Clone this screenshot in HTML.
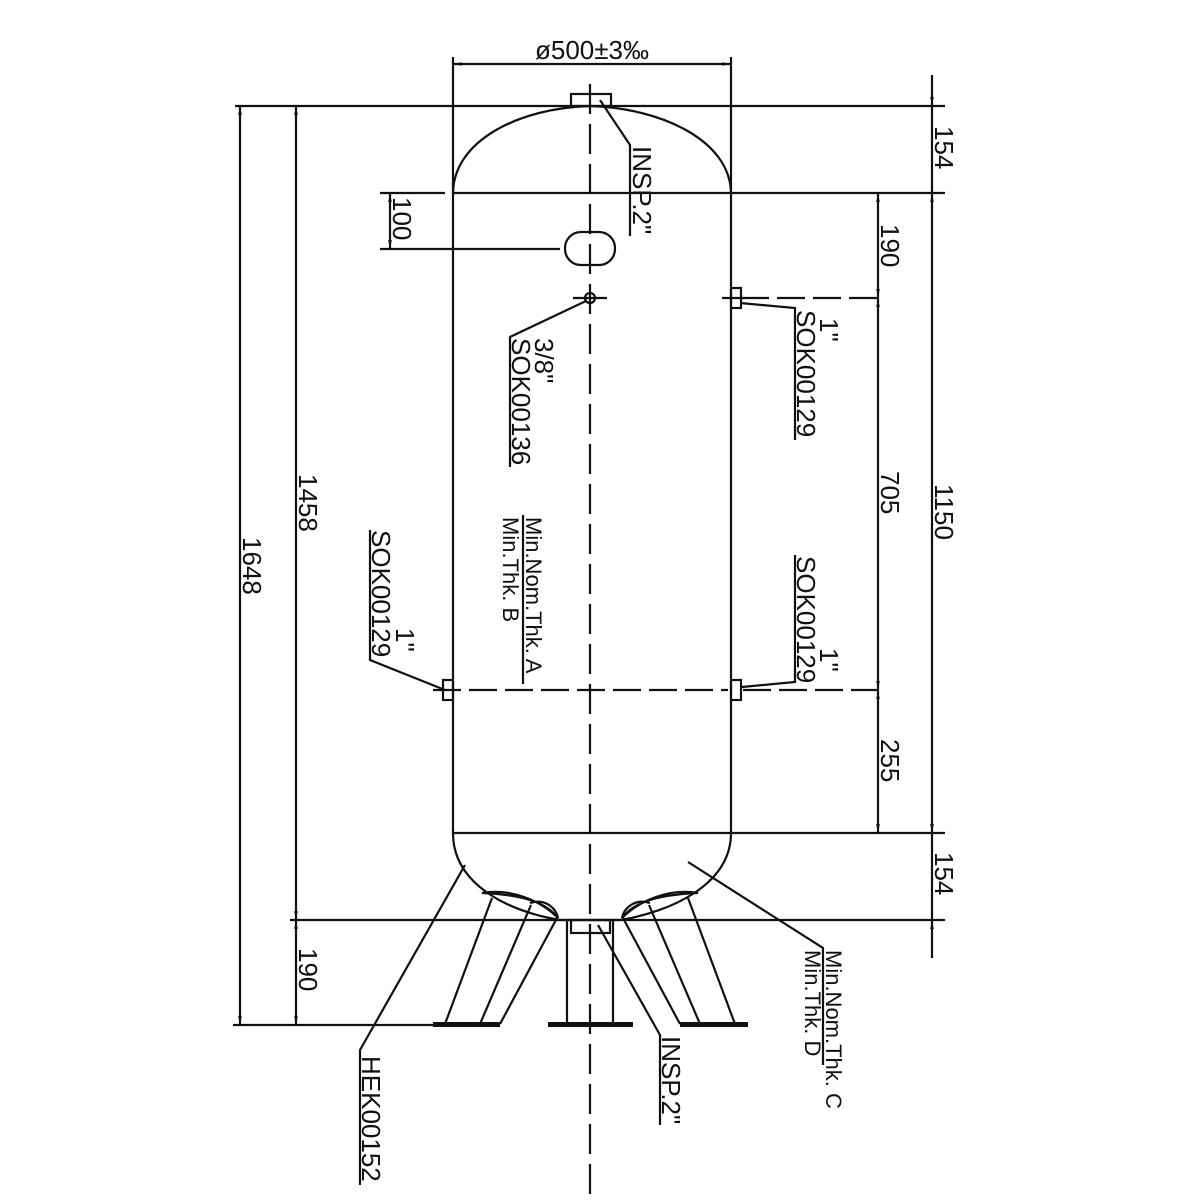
<!DOCTYPE html>
<html><head><meta charset="utf-8"><style>
html,body{margin:0;padding:0;background:#fff;}
svg{display:block;}
text{font-family:"Liberation Sans",sans-serif;fill:#111;}
</style></head><body>
<svg width="1200" height="1200" viewBox="0 0 1200 1200" xmlns="http://www.w3.org/2000/svg">
<defs>
<marker id="a" viewBox="0 0 10 10" refX="10" refY="5" markerWidth="9" markerHeight="9" orient="auto-start-reverse" markerUnits="userSpaceOnUse"><path d="M0,3 L10,5 L0,7 z" fill="#111"/></marker>
</defs>
<g stroke="#111" stroke-width="2.2" fill="none">
<path d="M453,57 L453,833"/>
<path d="M731,57 L731,833"/>
<path d="M453,194 C453,140 520,108 590,106 C660,108 731,140 731,194"/>
<path d="M453,833 C453,885 510,912 560,920 L620,920 C670,912 731,885 731,833"/>
<rect x="571" y="94" width="40" height="12"/>
<line x1="453" y1="64" x2="731" y2="64" marker-start="url(#a)" marker-end="url(#a)"/>
<line x1="235" y1="106" x2="945" y2="106"/>
<line x1="380" y1="193" x2="445" y2="193"/>
<line x1="453" y1="193" x2="945" y2="193"/>
<line x1="380" y1="249" x2="560" y2="249"/>
<line x1="453" y1="833" x2="945" y2="833"/>
<line x1="290" y1="920" x2="945" y2="920"/>
<line x1="233" y1="1025" x2="460" y2="1025"/>
<line x1="741" y1="298" x2="885" y2="298" stroke-dasharray="28,8"/>
<line x1="743" y1="690" x2="885" y2="690" stroke-dasharray="28,8"/>
<line x1="433" y1="690" x2="728" y2="690" stroke-dasharray="28,8"/>
<line x1="722" y1="298" x2="741" y2="298"/>
<line x1="932" y1="75" x2="932" y2="106" marker-end="url(#a)"/>
<line x1="932" y1="106" x2="932" y2="193"/>
<line x1="932" y1="193" x2="932" y2="833" marker-start="url(#a)" marker-end="url(#a)"/>
<line x1="932" y1="833" x2="932" y2="920"/>
<line x1="932" y1="958" x2="932" y2="920" marker-end="url(#a)"/>
<line x1="878" y1="193" x2="878" y2="298" marker-start="url(#a)" marker-end="url(#a)"/>
<line x1="878" y1="298" x2="878" y2="690" marker-start="url(#a)" marker-end="url(#a)"/>
<line x1="878" y1="690" x2="878" y2="833" marker-start="url(#a)" marker-end="url(#a)"/>
<line x1="240" y1="106" x2="240" y2="1025" marker-start="url(#a)" marker-end="url(#a)"/>
<line x1="296" y1="106" x2="296" y2="920" marker-start="url(#a)" marker-end="url(#a)"/>
<line x1="296" y1="920" x2="296" y2="1025" marker-start="url(#a)" marker-end="url(#a)"/>
<line x1="390" y1="193" x2="390" y2="249" marker-start="url(#a)" marker-end="url(#a)"/>
<line x1="590" y1="84" x2="590" y2="1200" stroke-dasharray="30,10"/>
<rect x="565" y="232" width="50" height="33" rx="16"/>
<circle cx="590" cy="298" r="5"/>
<line x1="573" y1="298" x2="607" y2="298"/>
<rect x="731" y="288" width="10" height="20"/>
<rect x="443" y="680" width="10" height="20"/>
<rect x="731" y="680" width="10" height="20"/>
<polyline points="600,100 630,145 630,236"/>
<polyline points="586,301 510,337 510,467"/>
<polyline points="740,303 795,308 795,440"/>
<polyline points="742,687 795,682 795,555"/>
<polyline points="370,530 370,660 445,690"/>
<polyline points="465,865 360,1050 360,1185"/>
<polyline points="598,925 660,1035 660,1125"/>
<polyline points="688,862 823,948 823,1065"/>
<line x1="523" y1="515" x2="523" y2="684"/>
<path d="M482,893 C510,888 540,900 558,918 C548,905 530,895 482,893 Z"/>
<path d="M530,903 C545,898 556,908 558,918"/>
<line x1="492" y1="898" x2="445" y2="1024"/>
<line x1="531" y1="905" x2="480" y2="1024"/>
<line x1="557" y1="918" x2="500" y2="1024"/>
<path d="M698,893 C670,888 640,900 622,918 C632,905 650,895 698,893 Z"/>
<path d="M650,903 C635,898 624,908 622,918"/>
<line x1="688" y1="898" x2="735" y2="1024"/>
<line x1="649" y1="905" x2="700" y2="1024"/>
<line x1="623" y1="918" x2="680" y2="1024"/>
<line x1="567" y1="920" x2="567" y2="1024"/>
<line x1="613" y1="920" x2="613" y2="1024"/>
<rect x="571" y="920" width="39" height="13"/>
</g>
<g fill="#111">
<rect x="433" y="1022" width="67" height="5"/>
<rect x="548" y="1022" width="85" height="5"/>
<rect x="680" y="1022" width="68" height="5"/>
</g>
<text x="592" y="59" font-size="26" text-anchor="middle">ø500±3‰</text>
<g font-size="26">
<text transform="translate(935,126) rotate(90)">154</text>
<text transform="translate(935,484) rotate(90)">1150</text>
<text transform="translate(935,852) rotate(90)">154</text>
<text transform="translate(881,224) rotate(90)">190</text>
<text transform="translate(881,471) rotate(90)">705</text>
<text transform="translate(881,739) rotate(90)">255</text>
<text transform="translate(243,537) rotate(90)">1648</text>
<text transform="translate(299,474) rotate(90)">1458</text>
<text transform="translate(299,948) rotate(90)">190</text>
<text transform="translate(393,197) rotate(90)">100</text>
<text transform="translate(633,146) rotate(90)">INSP.2"</text>
<text transform="translate(535,338) rotate(90)">3/8"</text>
<text transform="translate(512,338) rotate(90)">SOK00136</text>
<text transform="translate(820,318) rotate(90)">1"</text>
<text transform="translate(797,310) rotate(90)">SOK00129</text>
<text transform="translate(797,556) rotate(90)">SOK00129</text>
<text transform="translate(820,648) rotate(90)">1"</text>
<text transform="translate(372,530) rotate(90)">SOK00129</text>
<text transform="translate(396,628) rotate(90)">1"</text>
<text transform="translate(362,1056) rotate(90)">HEK00152</text>
<text transform="translate(662,1036) rotate(90)">INSP.2"</text>
</g>
<g font-size="22">
<text transform="translate(526,517) rotate(90)">Min.Nom.Thk.  A</text>
<text transform="translate(503,517) rotate(90)">Min.Thk.  B</text>
<text transform="translate(826,950) rotate(90)">Min.Nom.Thk.  C</text>
<text transform="translate(805,950) rotate(90)">Min.Thk.  D</text>
</g>
</svg>
</body></html>
